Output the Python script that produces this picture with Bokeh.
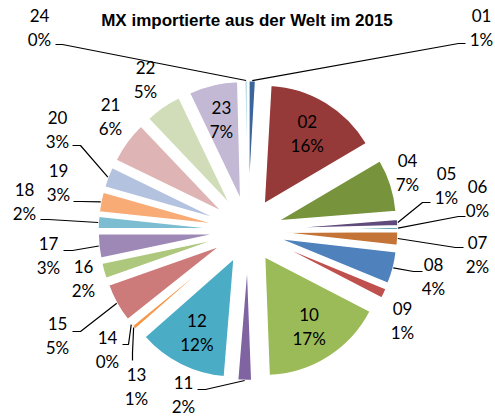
import numpy as np
from bokeh.plotting import figure
from bokeh.models import Range1d, ColumnDataSource
from bokeh.core.properties import value
from bokeh.embed import file_html
from bokeh.resources import INLINE

# ---------------- data ----------------
title = "MX importierte aus der Welt im 2015"
categories = ["01", "02", "04", "05", "06", "07", "08", "09", "10", "11", "12",
              "13", "14", "15", "16", "17", "18", "19", "20", "21", "22", "23", "24"]
shares = [0.9, 15.6, 7.2, 0.9, 0.3, 1.9, 4.4, 1.4, 16.8, 1.9, 12.2,
          0.6, 0.2, 5.3, 2.1, 3.3, 1.7, 2.7, 2.8, 5.7, 5.0, 6.7, 0.4]
colors = ["#3C659C", "#953A38", "#77933C", "#604B7C", "#33869C", "#C37436",
          "#4F81BD", "#C0504D", "#9BBB59", "#8064A2", "#4BACC6", "#F79646",
          "#7A9DCD", "#CD7B7A", "#ADC77C", "#9D88B6", "#7CBDD1", "#F9AB75",
          "#B3C2DF", "#DEB5B4", "#D0DDB8", "#C3B9D4", "#B6DDE7"]

# ---------------- layout ----------------
W, H = 495, 418
CX, CY = 247.5, 230.0      # pie centre in page pixels
R = 119                    # slice radius
EXPLODE = 31               # explosion offset
INNER_LABEL_R = 114
LEADER_R = 150
inside = ["02", "10", "12", "23"]
# outside label block centres (page px)
label_at = {
    "24": (39, 27), "01": (481, 27), "04": (407, 172), "05": (446, 185),
    "06": (477, 198), "07": (477, 254), "08": (433, 276), "09": (402, 320),
    "11": (183, 394), "13": (136, 386), "14": (107, 349), "15": (57, 335),
    "16": (83, 278), "17": (48, 255), "18": (24, 201), "19": (58, 182),
    "20": (57, 129), "21": (110, 116), "22": (145, 79),
}
# leader line start and elbow (page px); the end is on the slice
leaders = {
    "24": [(55, 44), (62, 44)], "01": [(465, 43), (458, 43)],
    "05": [(430, 202), (422, 202)], "06": [(465, 216), (458, 216)],
    "07": [(463, 247), (455, 247)], "08": [(422, 271), (413, 271)],
    "11": [(197, 389), (205, 389)], "13": [(132, 360), (132, 352)],
    "14": [(122, 344), (128, 344)], "15": [(72, 331), (80, 331)],
    "17": [(63, 250), (72, 250)], "18": [(40, 219), (48, 219)],
    "19": [(73, 201), (80, 201)], "20": [(72, 145), (80, 145)],
}


def Y(wy):
    return H - wy


vals = np.array(shares, dtype=float)
frac = vals / vals.sum()
cum = np.cumsum(frac)
th1 = 2 * np.pi * (cum - frac)
th2 = 2 * np.pi * cum
mid = (th1 + th2) / 2

ax = CX + EXPLODE * np.sin(mid)
ay = Y(CY) + EXPLODE * np.cos(mid)

src = ColumnDataSource(dict(x=ax, y=ay, s=np.pi / 2 - th1, e=np.pi / 2 - th2, c=colors))

p = figure(width=W, height=H, x_range=Range1d(0, W), y_range=Range1d(0, H),
           output_backend="svg", toolbar_location=None,
           x_axis_location=None, y_axis_location=None, min_border=0)
p.outline_line_color = None
p.grid.visible = False
p.background_fill_color = "white"
p.border_fill_color = "white"

p.wedge(x="x", y="y", radius=R, start_angle="s", end_angle="e", direction="clock",
        fill_color="c", line_color="white", line_width=1.5, source=src)

# leader lines
xs, ys = [], []
for i, cat in enumerate(categories):
    if cat in leaders:
        pts = leaders[cat]
        ex = CX + LEADER_R * np.sin(mid[i])
        ey = CY - LEADER_R * np.cos(mid[i])
        xs.append([pts[0][0], pts[1][0], ex])
        ys.append([Y(pts[0][1]), Y(pts[1][1]), Y(ey)])
p.multi_line(xs, ys, line_color="black", line_width=1.2)

# labels
lx, ly, lt = [], [], []
for i, cat in enumerate(categories):
    pct = f"{int(round(shares[i]))}%"
    if cat in inside:
        cx = CX + INNER_LABEL_R * np.sin(mid[i])
        cy = CY - INNER_LABEL_R * np.cos(mid[i])
    elif cat in label_at:
        cx, cy = label_at[cat]
    else:
        continue
    lx += [cx, cx]
    ly += [Y(cy - 12), Y(cy + 12)]
    lt += [cat, pct]

p.text(x=lx, y=ly, text=lt, text_align="center", text_baseline="middle",
       text_font=value("Lato"), text_font_size="17px", text_color="black")

p.text(x=[246.5], y=[Y(19.5)], text=[title], text_align="center", text_baseline="middle",
       text_font=value("Liberation Sans"), text_font_style="bold", text_font_size="17px",
       text_color="black")

open("out.html", "w").write(file_html(p, INLINE))
